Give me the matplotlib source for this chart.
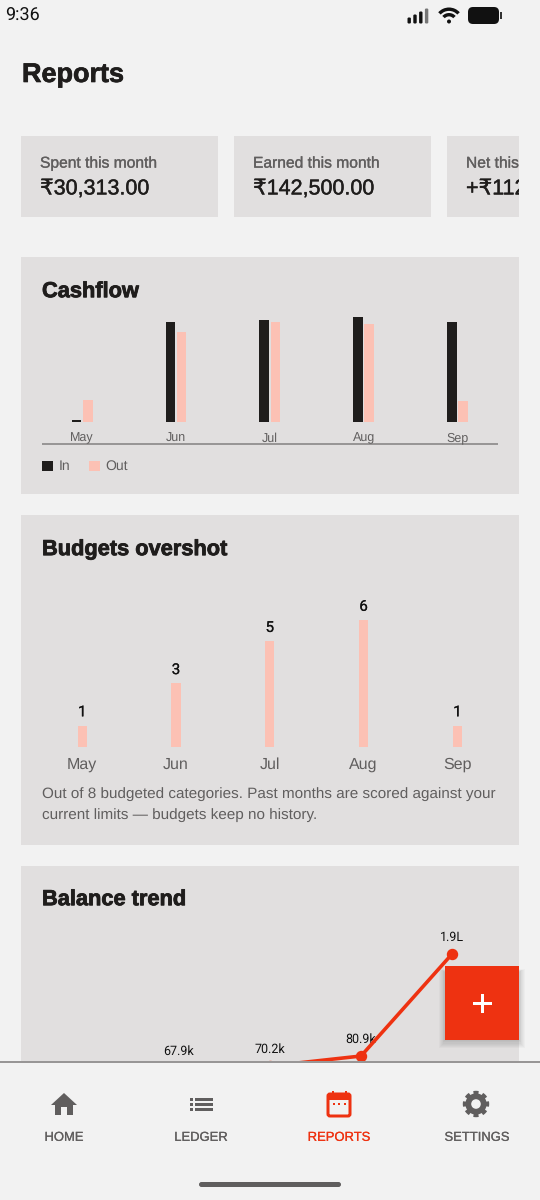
import numpy as np
import matplotlib
matplotlib.use("Agg")
import matplotlib.pyplot as plt
import matplotlib.patheffects as pe
from matplotlib.patches import Rectangle, FancyBboxPatch, Circle, Polygon, Wedge

plt.rcParams["text.hinting"] = "no_hinting"
plt.rcParams["text.hinting_factor"] = 8

BG = "#f2f2f2"
CARD = "#e1dfdf"
DARK = "#1f1d1c"
PINK = "#fcc1b4"
RED = "#ee3211"
GRAY = "#605e5e"
RULE = "#989696"
UI_FONT = ["Liberation Sans", "DejaVu Sans"]
NUM_FONT = ["Roboto", "DejaVu Sans"]

# Data
months = ["May", "Jun", "Jul", "Aug", "Sep"]
cash_in = [3, 142.5, 145, 150, 142.5]
cash_out = [31, 128, 142.5, 139.5, 30.3]
overshot = [1, 3, 5, 6, 1]
trend_pos = [1, 2, 3, 4]
trend_vals = [67.9, 70.2, 80.9, 190]
trend_labels = ["67.9k", "70.2k", "80.9k", "1.9L"]
stat_titles = ["Spent this month", "Earned this month", "Net this"]
stat_values = ["₹30,313.00", "₹142,500.00", "+₹112"]
stat_left = [21, 234, 447]
nav_labels = ["HOME", "LEDGER", "REPORTS", "SETTINGS"]
nav_x = [64, 201, 339, 477]

W, H = 540, 1200
fig = plt.figure(figsize=(W / 100, H / 100), dpi=100, facecolor=BG)


def px_axes(x0, y0, x1, y1, z=1):
    # axes placed with pixel coords, y counted from the top
    ax = fig.add_axes([x0 / W, 1 - y1 / H, (x1 - x0) / W, (y1 - y0) / H], zorder=z)
    ax.patch.set_alpha(0)
    return ax


def px(size):
    return size * 0.72


def heavy(color, width=0.5):
    return [pe.withStroke(linewidth=width, foreground=color)]


ui = px_axes(0, 0, W, H, z=0)
ui.set_xlim(0, W)
ui.set_ylim(H, 0)
ui.axis("off")

# status bar
ui.text(5.5, 16, "9:36", fontsize=px(18), family=NUM_FONT, color="#111111", va="center")
for i, h in enumerate([6, 9, 12, 15]):
    ui.add_patch(FancyBboxPatch((407.5 + i * 5.8, 23.5 - h), 3.4, h, boxstyle="round,pad=0,rounding_size=1.2",
                                fc="#111111" if i < 3 else "#777777", ec="none"))
for r, th in [(14.5, 3.4), (9, 3.4)]:
    ui.add_patch(Wedge((449, 22), r, 222, 318, width=th, fc="#111111", ec="none"))
ui.add_patch(Circle((449, 21.5), 2, fc="#111111", ec="none"))
ui.add_patch(FancyBboxPatch((468, 7), 31, 17, boxstyle="round,pad=0,rounding_size=5", fc="#111111", ec="none"))
ui.add_patch(Rectangle((500, 12), 2, 7, fc="#333333", ec="none"))

ui.text(22, 75, "Reports", fontsize=px(27), family=UI_FONT, weight="bold", color=DARK, va="center",
        path_effects=heavy(DARK))

# stat cards, the last one runs off the edge of the scroller
clip = Rectangle((0, 0), 519, H, transform=ui.transData)
for left, title, value in zip(stat_left, stat_titles, stat_values):
    right = min(left + 197, 519)
    ui.add_patch(Rectangle((left, 136), right - left, 81, fc=CARD, ec="none"))
    t1 = ui.text(left + 19, 163.5, title, fontsize=px(15.6), family=UI_FONT, color=GRAY, va="center",
                 path_effects=heavy(GRAY, 0.2))
    t2 = ui.text(left + 19, 189, value, fontsize=px(21.5), family=UI_FONT, color=DARK, va="center",
                 path_effects=heavy(DARK, 0.3))
    t1.set_clip_on(True)
    t1.set_clip_path(clip)
    t2.set_clip_on(True)
    t2.set_clip_path(clip)

# section cards
for top, bottom in [(257, 494), (515, 845), (866, 1100)]:
    ui.add_patch(Rectangle((21, top), 498, bottom - top, fc=CARD, ec="none"))
for ty, title in [(291.5, "Cashflow"), (549.5, "Budgets overshot"), (899.5, "Balance trend")]:
    ui.text(42, ty, title, fontsize=px(21.8), family=UI_FONT, weight="bold", color=DARK, va="center",
            path_effects=heavy(DARK, 0.6))

# Cashflow bars
x = np.arange(len(months))
ax = px_axes(35.3, 310, 504.3, 422)
ax.bar(x - 0.06, cash_in, 0.103, color=DARK)
ax.bar(x + 0.06, cash_out, 0.103, color=PINK)
ax.set_xlim(-0.5, 4.5)
ax.set_ylim(0, 112 * 1.425)
ax.set_xticks(x, months)
ax.set_yticks([])
ax.tick_params(axis="x", length=0, pad=px(19.5), labelsize=px(12.5), labelcolor=GRAY)
for lab in ax.get_xticklabels():
    lab.set_family(UI_FONT)
    lab.set_verticalalignment("baseline")
for s in ax.spines.values():
    s.set_visible(False)

ui.add_patch(Rectangle((42, 443), 456, 2.4, fc=RULE, ec="none"))
ui.add_patch(Rectangle((42, 460.5), 10.5, 10.5, fc=DARK, ec="none"))
ui.text(58.5, 466.5, "In", fontsize=px(14), family=UI_FONT, color=GRAY, va="center")
ui.add_patch(Rectangle((88.5, 460.5), 11, 10.5, fc=PINK, ec="none"))
ui.text(105.5, 466.5, "Out", fontsize=px(14), family=UI_FONT, color=GRAY, va="center")

# Budgets overshot bars
ax = px_axes(35.3, 600, 504.3, 746.7)
bars = ax.bar(x, overshot, 0.1, color=PINK)
labels = ax.bar_label(bars, padding=4.5, fontsize=px(15), family=NUM_FONT, color="#111111")
for lab in labels:
    lab.set_path_effects(heavy("#111111", 0.15))
ax.set_xlim(-0.5, 4.5)
ax.set_ylim(0, 146.7 / 21.1)
ax.set_xticks(x, months)
ax.set_yticks([])
ax.tick_params(axis="x", length=0, pad=px(22), labelsize=px(16), labelcolor=GRAY)
for lab in ax.get_xticklabels():
    lab.set_family(UI_FONT)
    lab.set_verticalalignment("baseline")
for s in ax.spines.values():
    s.set_visible(False)

ui.text(42, 794, "Out of 8 budgeted categories. Past months are scored against your",
        fontsize=px(15.2), family=UI_FONT, color=GRAY, va="center")
ui.text(42, 815, "current limits — budgets keep no history.",
        fontsize=px(15.2), family=UI_FONT, color=GRAY, va="center")

# Balance trend, cut off by the bottom nav
ax = px_axes(42, 925, 498, 1062)
ax.plot(trend_pos, trend_vals, color=RED, lw=px(3.6), marker="o", ms=px(10), solid_capstyle="round")
for p, v, lab in zip(trend_pos, trend_vals, trend_labels):
    ax.annotate(lab, (p, v), xytext=(0, 12), textcoords="offset points", ha="center", va="center",
                fontsize=px(12.5), family=NUM_FONT, color="#111111", annotation_clip=False, zorder=1)
ax.set_xlim(-0.505, 4.505)
ax.set_ylim(74.5, 74.5 + 137 / 0.935)
ax.axis("off")

# nav bar and floating button on top of the scrolled content
top = px_axes(0, 0, W, H, z=3)
top.set_xlim(0, W)
top.set_ylim(H, 0)
top.axis("off")

for grow in np.arange(14, 0, -2):
    top.add_patch(Rectangle((445 - grow * 0.4, 972 - grow * 0.2), 74 + grow * 0.8, 68 + grow * 0.8,
                            fc="#000000", alpha=0.022, ec="none"))
top.add_patch(Rectangle((445, 966), 74, 74, fc=RED, ec="none"))
top.add_patch(Rectangle((473, 1002), 19, 2.6, fc="white", ec="none"))
top.add_patch(Rectangle((481.2, 994), 2.6, 19, fc="white", ec="none"))

top.add_patch(Rectangle((0, 1062), W, H - 1062, fc=BG, ec="none"))
top.add_patch(Rectangle((0, 1061), W, 2.4, fc=RULE, ec="none"))

for label, nx in zip(nav_labels, nav_x):
    color = RED if label == "REPORTS" else GRAY
    top.text(nx, 1137.5, label, fontsize=px(13), family=UI_FONT, color=color, ha="center", va="center",
             path_effects=heavy(color, 0.15))

# home icon
top.add_patch(Polygon([(51, 1105), (64, 1093), (77, 1105), (73, 1105), (73, 1115), (67, 1115), (67, 1107),
                       (61, 1107), (61, 1115), (55, 1115), (55, 1105)], fc=GRAY, ec="none"))
# list icon
for yy in [1099, 1104, 1109]:
    top.add_patch(Rectangle((189.5, yy - 1), 3, 2.5, fc=GRAY, ec="none"))
    top.add_patch(Rectangle((194.5, yy - 1), 18.5, 2.5, fc=GRAY, ec="none"))
# calendar icon
top.add_patch(FancyBboxPatch((328, 1094), 22, 22, boxstyle="round,pad=0,rounding_size=2", fc=BG, ec=RED, lw=px(3)))
top.add_patch(Rectangle((328, 1094), 22, 6, fc=RED, ec="none"))
for xx in [332, 344.5]:
    top.add_patch(Rectangle((xx, 1091), 2.4, 4, fc=RED, ec="none"))
for xx in [332.5, 338, 343.5]:
    top.add_patch(Rectangle((xx, 1103), 2.4, 2.4, fc=RED, ec="none"))
# gear icon
theta = np.deg2rad(np.arange(0, 360, 1))
gear_r = 13.2 - 2.6 * (np.cos(8 * theta) < -0.2)
top.add_patch(Polygon(np.c_[476 + gear_r * np.cos(theta), 1104 + gear_r * np.sin(theta)], fc=GRAY, ec="none"))
top.add_patch(Circle((476, 1104), 4.8, fc=BG, ec="none"))

top.add_patch(FancyBboxPatch((199, 1182), 142, 5, boxstyle="round,pad=0,rounding_size=2.5", fc=GRAY, ec="none"))

fig.savefig("out.png", dpi=100, facecolor=BG)
